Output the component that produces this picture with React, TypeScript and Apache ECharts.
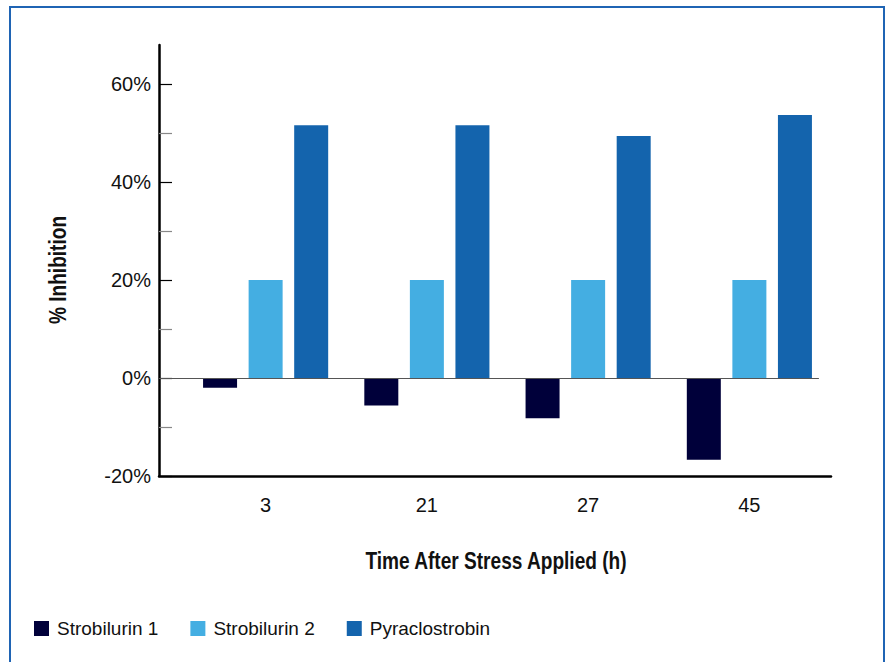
import React, { useEffect, useRef } from "react";
import * as echarts from "echarts";

const categories = ["3", "21", "27", "45"];
const strobilurin1 = [-2.0, -5.6, -8.2, -16.7];
const strobilurin2 = [20, 20, 20, 20];
const pyraclostrobin = [51.6, 51.6, 49.4, 53.7];
const majorTicks = [-20, 0, 20, 40, 60];
const minorTicks = [-10, 10, 30, 50];
const yMin = -20;
const yMax = 68;

const FONT = "'Liberation Sans', Arial, Helvetica, sans-serif";

export default function App() {
  const ref = useRef<HTMLDivElement>(null);
  useEffect(() => {
    if (!ref.current) return;
    const chart = echarts.init(ref.current, null, { renderer: "svg" });
    const barCommon = {
      type: "bar",
      xAxisIndex: 0,
      yAxisIndex: 0,
      barWidth: 34,
      barGap: "34%",
    };
    chart.setOption({
      animation: false,
      backgroundColor: "#ffffff",
      grid: [
        { left: 185, top: 45, width: 645, height: 431 },
        { left: 159, top: 45, width: 672, height: 431 },
      ],
      xAxis: [
        {
          type: "category",
          gridIndex: 0,
          data: categories,
          axisLine: { show: false },
          axisTick: { show: false },
          axisLabel: { margin: 19, fontSize: 20, color: "#111", fontFamily: FONT },
        },
        {
          type: "value",
          gridIndex: 1,
          min: 0,
          max: 1,
          axisLine: { show: true, onZero: false, lineStyle: { color: "#000", width: 2.5 } },
          axisTick: { show: false },
          axisLabel: { show: false },
          splitLine: { show: false },
        },
      ],
      yAxis: [
        {
          type: "value",
          gridIndex: 0,
          min: yMin,
          max: yMax,
          show: false,
          splitLine: { show: false },
        },
        {
          type: "value",
          gridIndex: 1,
          position: "left",
          min: yMin,
          max: yMax,
          axisLine: { show: true, onZero: false, lineStyle: { color: "#000", width: 2.5 } },
          axisTick: {
            show: true,
            inside: true,
            length: 13,
            customValues: majorTicks,
            lineStyle: { color: "#000", width: 1.2 },
          },
          axisLabel: {
            customValues: majorTicks,
            formatter: "{value}%",
            fontSize: 20,
            margin: 8,
            color: "#111",
            fontFamily: FONT,
          },
          splitLine: { show: false },
        },
        {
          type: "value",
          gridIndex: 1,
          position: "left",
          offset: 0,
          min: yMin,
          max: yMax,
          axisLine: { show: false },
          axisTick: {
            show: true,
            inside: true,
            length: 13,
            customValues: minorTicks,
            lineStyle: { color: "#888", width: 1.2 },
          },
          axisLabel: { show: false },
          splitLine: { show: false },
        },
      ],
      legend: {
        left: 29,
        top: 614,
        itemWidth: 15,
        itemHeight: 15,
        itemGap: 32,
        icon: "rect",
        textStyle: { fontSize: 19, color: "#111", fontFamily: FONT, padding: [0, 0, 0, 3] },
        data: ["Strobilurin 1", "Strobilurin 2", "Pyraclostrobin"],
      },
      series: [
        { ...barCommon, name: "Strobilurin 1", data: strobilurin1, itemStyle: { color: "#00003a" } },
        { ...barCommon, name: "Strobilurin 2", data: strobilurin2, itemStyle: { color: "#44aee2" } },
        { ...barCommon, name: "Pyraclostrobin", data: pyraclostrobin, itemStyle: { color: "#1464ad" } },
        {
          type: "line",
          xAxisIndex: 1,
          yAxisIndex: 1,
          data: [],
          z: 10,
          markLine: {
            silent: true,
            symbol: "none",
            label: { show: false },
            lineStyle: { color: "#555", width: 1, type: "solid" },
            data: [[{ coord: [0, 0] }, { coord: [0.982, 0] }]],
          },
        },
      ],
      graphic: [
        {
          type: "rect",
          shape: { x: 10, y: 7, width: 874, height: 700 },
          style: { fill: "none", stroke: "#1f64b4", lineWidth: 2 },
          silent: true,
        },
        {
          type: "text",
          x: 496,
          y: 561,
          scaleX: 0.83,
          style: {
            text: "Time After Stress Applied (h)",
            font: "bold 23px " + FONT,
            fill: "#111",
            align: "center",
            verticalAlign: "middle",
          },
        },
        {
          type: "text",
          x: 58,
          y: 270,
          rotation: Math.PI / 2,
          scaleX: 0.83,
          style: {
            text: "% Inhibition",
            font: "bold 23px " + FONT,
            fill: "#111",
            align: "center",
            verticalAlign: "middle",
          },
        },
      ],
    });
    return () => chart.dispose();
  }, []);
  return (
    <div
      ref={ref}
      style={{ position: "fixed", left: 0, top: 0, width: 887, height: 662, background: "#fff" }}
    />
  );
}
